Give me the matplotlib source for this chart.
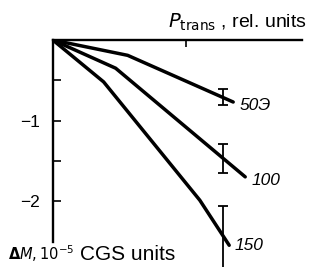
import matplotlib.pyplot as plt

# curves: transmitted power vs magnetization change, for three fields
p_50 = [0, 0.56, 1.35]
m_50 = [0, -0.19, -0.77]
p_100 = [0, 0.47, 1.44]
m_100 = [0, -0.35, -1.70]
p_150 = [0, 0.38, 1.10, 1.32]
m_150 = [0, -0.52, -1.99, -2.55]

curve_labels = ['50Э', '100', '150']

# error bars (all at the same power)
err_x = [1.27, 1.27, 1.27]
err_y = [-0.71, -1.47, -2.46]
err_size = [0.10, 0.18, 0.40]

y_ticks = [-0.5, -1, -1.5, -2]
y_ticklabels = ['', '\u22121', '', '\u22122']

plt.rcParams['font.family'] = ['Liberation Sans', 'DejaVu Sans']

fig = plt.figure(figsize=(3.11, 2.67), dpi=100)
ax = fig.add_axes([0.170, 0.0, 0.801, 0.850])
ax.set_xlim(0, 1.865)
ax.set_ylim(-2.82, 0)

lw = 2.5
ax.plot(p_50, m_50, color='black', lw=lw, solid_capstyle='round')
ax.plot(p_100, m_100, color='black', lw=lw, solid_capstyle='round')
ax.plot(p_150, m_150, color='black', lw=lw, solid_capstyle='round')

ax.errorbar(err_x, err_y, yerr=err_size, fmt='none', ecolor='black',
            elinewidth=1.3, capsize=3.5, capthick=1.3)

ends = [(p_50[-1], m_50[-1]), (p_100[-1], m_100[-1]), (p_150[-1], m_150[-1])]
offsets = [(0.05, -0.04), (0.05, -0.05), (0.04, 0.0)]
for (x, y), lab, (dx, dy) in zip(ends, curve_labels, offsets):
    ax.text(x + dx, y + dy, lab, fontsize=12.5, style='italic',
            fontweight='medium', ha='left', va='center')

# axes: top line and left line only
for s in ['right', 'bottom']:
    ax.spines[s].set_visible(False)
ax.spines['top'].set_linewidth(1.7)
ax.spines['left'].set_linewidth(1.7)
ax.spines['left'].set_bounds(-2.51, 0)

ax.xaxis.set_ticks_position('top')
ax.set_xticks([1])
ax.set_xticklabels([])
ax.tick_params(axis='x', direction='in', length=5, width=1.2)

ax.set_yticks(y_ticks)
ax.set_yticklabels(y_ticklabels, fontsize=12.5)
ax.tick_params(axis='y', direction='in', length=6, width=1.2, pad=9)

fig.text(0.985, 0.915, r'$P_{\mathrm{trans}}$ , rel. units', fontsize=14,
         ha='right', va='center')
fig.text(0.025, 0.05, r'$\mathbf{\Delta}\mathit{M},\mathit{10^{-5}}$',
         fontsize=10.5, ha='left', va='center')
fig.text(0.257, 0.045, 'CGS units', fontsize=15, ha='left', va='center')

fig.savefig('out.png', dpi=100)
